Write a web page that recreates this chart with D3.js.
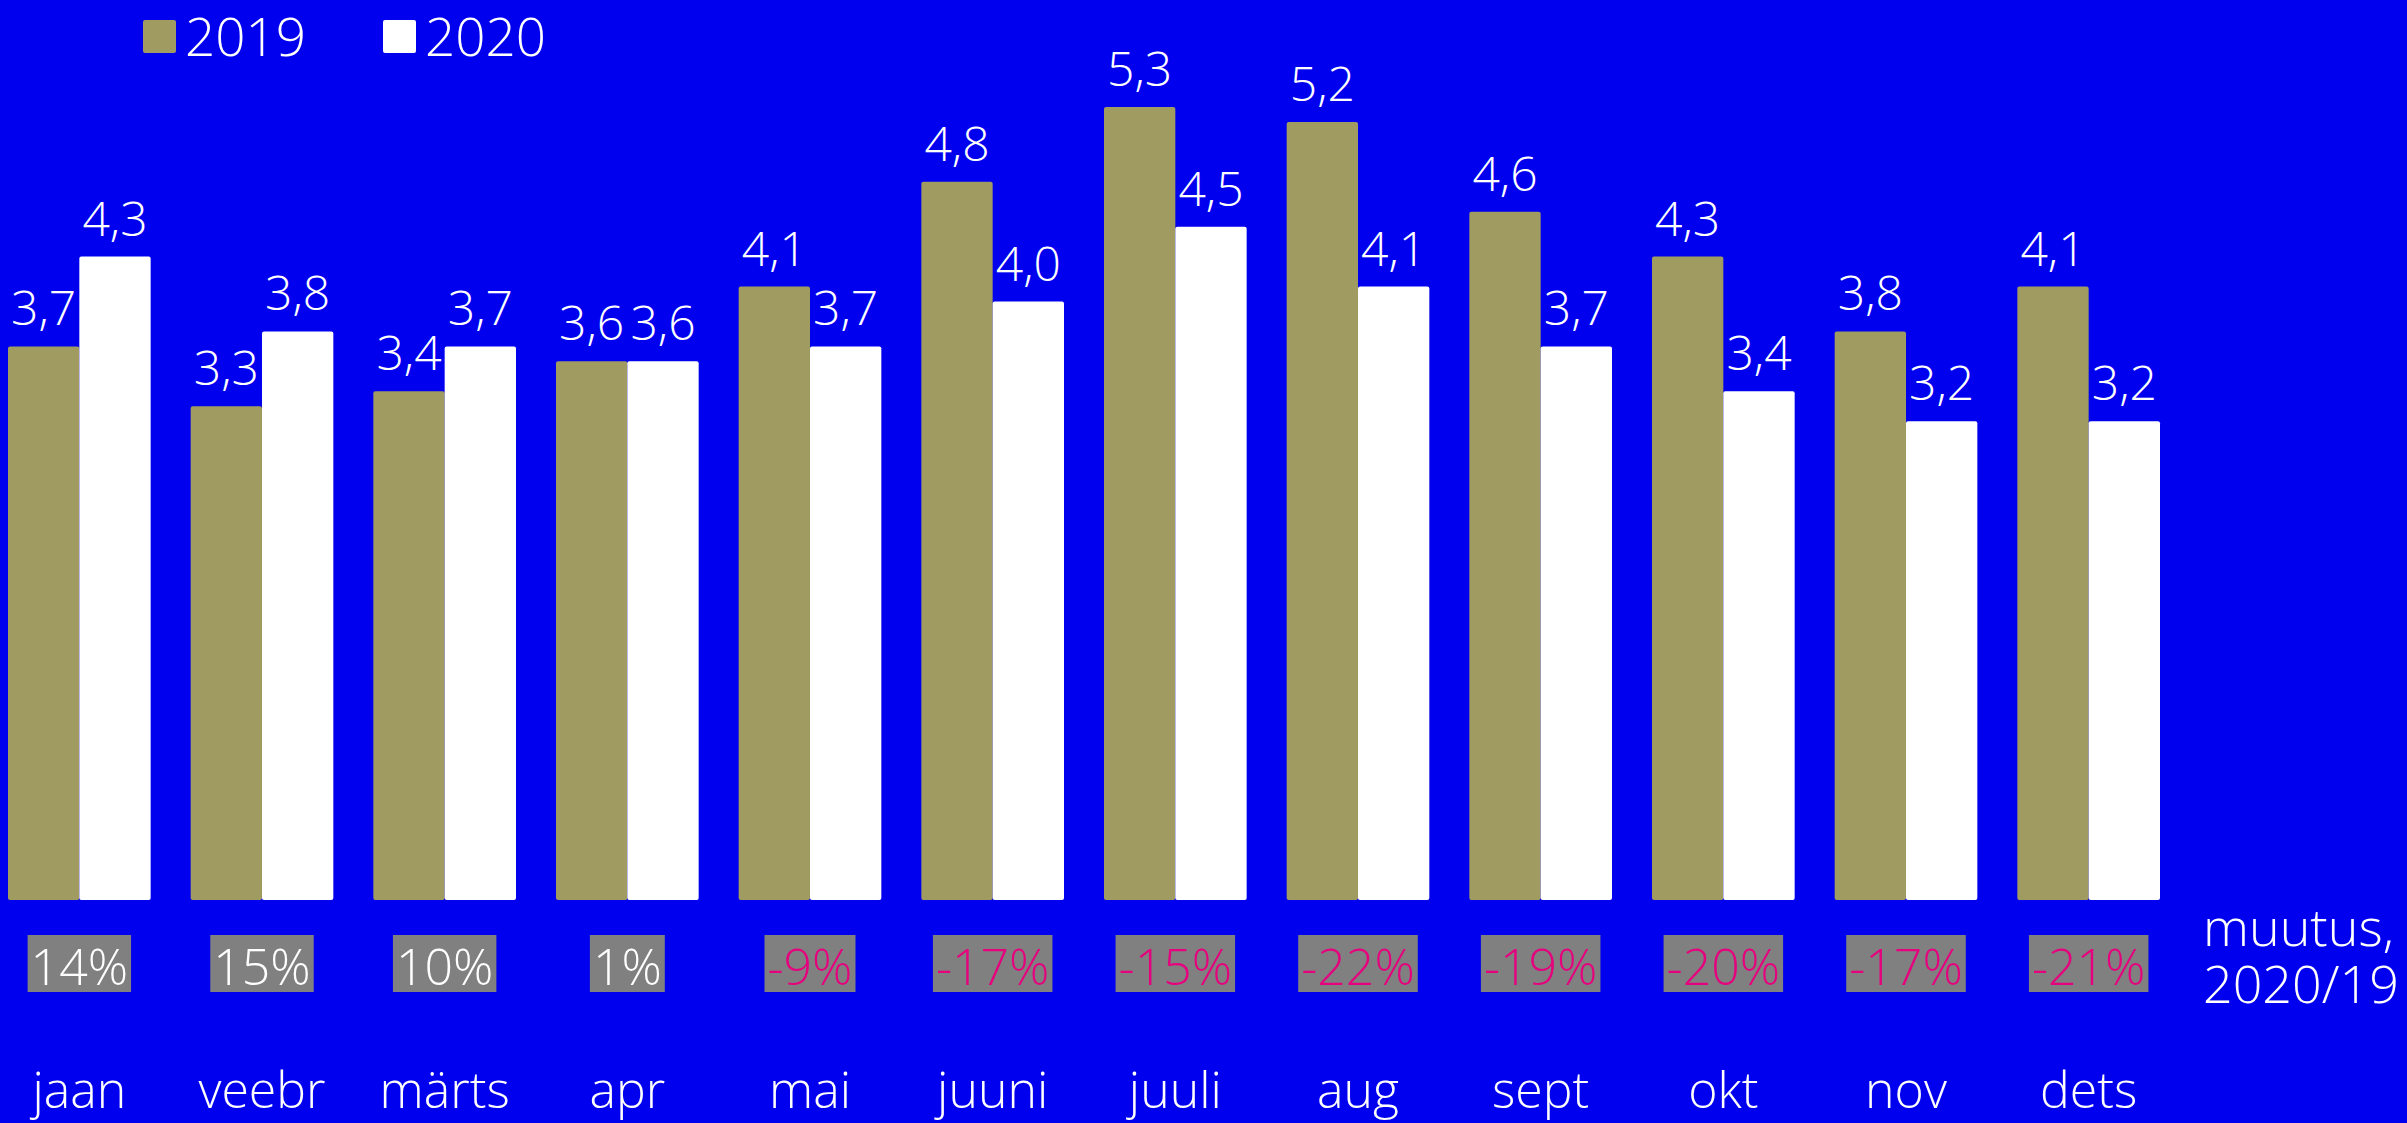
<!DOCTYPE html>
<html>
<head>
<meta charset="utf-8">
<script src="https://cdn.jsdelivr.net/npm/d3@7"></script>
<style>
  body { margin: 0; background: #0000ee; }
  text { font-family: "Open Sans", "Noto Sans", sans-serif; font-weight: 300; }
</style>
</head>
<body>
<div id="chart"></div>
<script>
// data
var months = ["jaan", "veebr", "märts", "apr", "mai", "juuni", "juuli", "aug", "sept", "okt", "nov", "dets"];
var years = ["2019", "2020"];
var values2019 = [3.7, 3.3, 3.4, 3.6, 4.1, 4.8, 5.3, 5.2, 4.6, 4.3, 3.8, 4.1];
var values2020 = [4.3, 3.8, 3.7, 3.6, 3.7, 4.0, 4.5, 4.1, 3.7, 3.4, 3.2, 3.2];
var changes = ["14%", "15%", "10%", "1%", "-9%", "-17%", "-15%", "-22%", "-19%", "-20%", "-17%", "-21%"];
var changeTitle = ["muutus,", "2020/19"];

var width = 2407, height = 1123;
var colors = { "2019": "#a09b60", "2020": "#ffffff" };

var svg = d3.select("#chart").append("svg")
    .attr("width", width)
    .attr("height", height);

svg.append("rect")
    .attr("width", width).attr("height", height)
    .attr("fill", "#0000ee");

var x0 = d3.scaleBand()
    .domain(months)
    .range([8, 2160])
    .paddingInner(0.219)
    .paddingOuter(0);

var x1 = d3.scaleBand()
    .domain(years)
    .range([0, x0.bandwidth()]);

var y = d3.scaleLinear()
    .domain([0, 5.3])
    .range([900, 107]);

var rows = months.map(function (m, i) {
    return { month: m, values: [
        { year: "2019", value: values2019[i] },
        { year: "2020", value: values2020[i] }
    ], change: changes[i] };
});

var fmt = function (v) { return d3.format(".1f")(v).replace(".", ","); };

var groups = svg.append("g").selectAll("g")
    .data(rows)
    .enter().append("g")
    .attr("transform", d => "translate(" + x0(d.month) + ",0)");

groups.selectAll("rect")
    .data(d => d.values)
    .enter().append("rect")
    .attr("x", d => x1(d.year))
    .attr("y", d => y(d.value))
    .attr("width", x1.bandwidth())
    .attr("height", d => y(0) - y(d.value))
    .attr("rx", 2)
    .attr("fill", d => colors[d.year]);

groups.selectAll("text.val")
    .data(d => d.values)
    .enter().append("text")
    .attr("class", "val")
    .attr("x", d => x1(d.year) + x1.bandwidth() / 2)
    .attr("y", d => y(d.value) - 21)
    .attr("text-anchor", "middle")
    .attr("fill", "#fff")
    .style("font-size", "48px")
    .text(d => fmt(d.value));

// change boxes
var changeBaseline = 985;
var chg = svg.append("g").selectAll("g")
    .data(rows)
    .enter().append("g");

chg.append("text")
    .attr("x", d => x0(d.month) + x0.bandwidth() / 2)
    .attr("y", changeBaseline)
    .attr("text-anchor", "middle")
    .attr("fill", d => d.change.charAt(0) === "-" ? "#e6007e" : "#fff")
    .style("font-size", "50px")
    .text(d => d.change);

chg.each(function () {
    var g = d3.select(this);
    var t = g.select("text");
    var w = t.node().getComputedTextLength();
    var cx = +t.attr("x");
    g.insert("rect", "text")
        .attr("x", cx - w / 2 - 3)
        .attr("y", changeBaseline - 50)
        .attr("width", w + 6)
        .attr("height", 57)
        .attr("fill", "#808080");
});

svg.append("g").selectAll("text")
    .data(changeTitle)
    .enter().append("text")
    .attr("x", 2203)
    .attr("y", (d, i) => 946 + i * 57)
    .attr("fill", "#fff")
    .style("font-size", "52px")
    .text(d => d);

// month labels
svg.append("g").selectAll("text")
    .data(months)
    .enter().append("text")
    .attr("x", d => x0(d) + x0.bandwidth() / 2)
    .attr("y", 1108)
    .attr("text-anchor", "middle")
    .attr("fill", "#fff")
    .style("font-size", "50px")
    .text(d => d);

// legend
var legend = svg.append("g").selectAll("g")
    .data(years)
    .enter().append("g")
    .attr("transform", (d, i) => "translate(" + (143 + i * 240) + ",0)");

legend.append("rect")
    .attr("x", 0).attr("y", 20)
    .attr("width", 33).attr("height", 33)
    .attr("rx", 2)
    .attr("fill", d => colors[d]);

legend.append("text")
    .attr("x", 42)
    .attr("y", 56)
    .attr("fill", "#fff")
    .style("font-size", "53px")
    .text(d => d);
</script>
</body>
</html>
